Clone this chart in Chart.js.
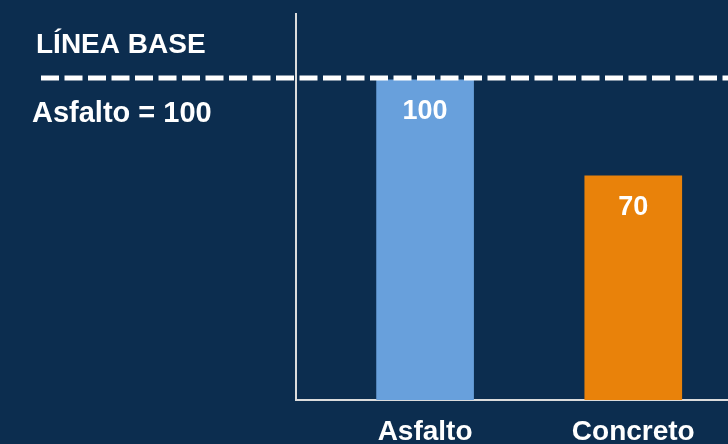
<!DOCTYPE html>
<html>
<head>
<meta charset="utf-8">
<script src="https://cdn.jsdelivr.net/npm/chart.js@4"></script>
<style>
  html, body { margin: 0; padding: 0; background: #0c2d4f; overflow: hidden; }
  #wrap { width: 728px; height: 444px; position: relative; }
</style>
</head>
<body>
<div id="wrap"><canvas id="chart" width="728" height="444"></canvas></div>
<script>
const categories = ['Asfalto', 'Concreto'];
const values = [100, 70];
const barColors = ['#68a0dc', '#e9820a'];
const baselineValue = 100;
const baselineTitle = 'LÍNEA BASE';
const baselineNote = 'Asfalto = 100';

const FONT = "'Liberation Sans', Arial, Helvetica, sans-serif";
const canvas = document.getElementById('chart');

// dashed baseline, its captions and the value labels inside the bars
const overlay = {
  id: 'overlay',
  afterDatasetsDraw(chart) {
    const ctx = chart.ctx;
    const y = chart.scales.y.getPixelForValue(baselineValue) - 2;

    ctx.save();
    ctx.strokeStyle = '#ffffff';
    ctx.lineWidth = 5;
    ctx.setLineDash([18, 5.5]);
    ctx.beginPath();
    ctx.moveTo(41, y);
    ctx.lineTo(chart.width, y);
    ctx.stroke();
    ctx.setLineDash([]);

    ctx.fillStyle = '#ffffff';
    ctx.textAlign = 'left';
    ctx.textBaseline = 'alphabetic';
    ctx.font = 'bold 28px ' + FONT;
    ctx.fillText(baselineTitle, 36, y - 25);
    ctx.font = 'bold 29px ' + FONT;
    ctx.fillText(baselineNote, 32, y + 44);

    ctx.font = 'bold 27px ' + FONT;
    ctx.textAlign = 'center';
    chart.getDatasetMeta(0).data.forEach((bar, i) => {
      ctx.fillText(String(values[i]), bar.x, bar.y + 39);
    });
    ctx.restore();
  }
};

new Chart(canvas, {
  type: 'bar',
  data: {
    datasets: [
      {
        data: values.map((v, i) => ({ x: i, y: v })),
        backgroundColor: barColors,
        borderWidth: 0,
        barThickness: 97,
      },
    ],
  },
  options: {
    responsive: false,
    animation: false,
    layout: {
      padding: { left: 296, right: 0, top: 14, bottom: 0 },
    },
    scales: {
      x: {
        type: 'linear',
        offset: false,
        min: -0.62,
        max: 1.455,
        afterBuildTicks: scale => {
          scale.ticks = categories.map((c, i) => ({ value: i }));
        },
        afterFit: scale => {
          scale.height = 44;
        },
        grid: { display: false, drawTicks: false },
        border: { display: true, color: '#dcdcdc', width: 2 },
        ticks: {
          color: '#ffffff',
          padding: 15,
          maxRotation: 0,
          autoSkip: false,
          font: { family: FONT, size: 28, weight: 'bold' },
          callback: v => categories[v],
        },
      },
      y: {
        min: 0,
        max: 120.6,
        grid: { display: false, drawTicks: false },
        border: { display: true, color: '#dcdcdc', width: 2 },
        ticks: { display: false },
      },
    },
    plugins: {
      legend: { display: false },
      tooltip: { enabled: false },
    },
  },
  plugins: [overlay],
});
</script>
</body>
</html>
